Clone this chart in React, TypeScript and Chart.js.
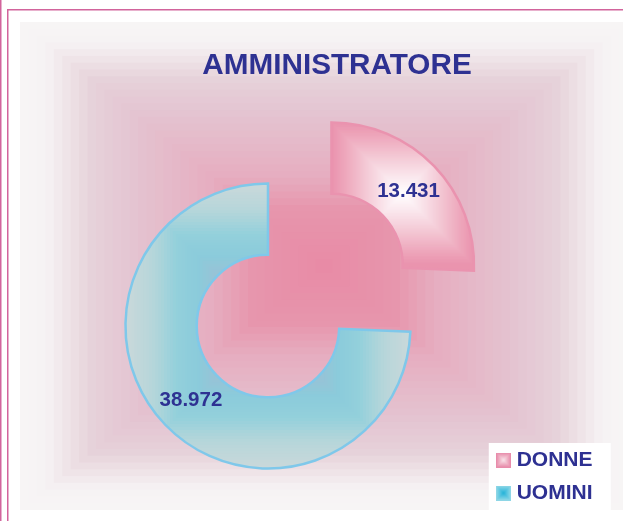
import React, { useEffect, useRef } from 'react';
import { Chart, registerables } from 'chart.js';

Chart.register(...registerables);

// ---------------- data ----------------
const TITLE = 'AMMINISTRATORE';
const categories = ['DONNE', 'UOMINI'];
const values = [13431, 38972];

// ---------------- style ----------------
type Stop = [number, string];
const W = 623;
const H = 521;
const FONT = '"Liberation Sans", Arial, Helvetica, sans-serif';
const TEXT_COLOR = '#2e3192';
const FRAME_COLOR = '#d2649c';
const RADIUS = 142.5;
const explodeOffsets = [352, 0];
const sliceBorders = ['#ea93af', '#7fc8ea'];
// gradient centre (dx, dy) and half size, in units of the radius, relative to the pie centre
const sliceGradGeom = [
  [0.5, -0.5, 0.5],
  [0, 0, 1],
];
const sliceStops: Stop[][] = [
  [[0, '#ea94ae'], [0.15, '#eda3b9'], [0.45, '#f3c6d3'], [0.75, '#fae7ed'], [1, '#ffffff']],
  [[0, '#c9d8da'], [0.18, '#b6d6da'], [0.35, '#93d0db'], [0.5, '#8bcbdb'], [0.62, '#98c3d6'], [1, '#a6c2d8']],
];
const bgStops: Stop[] = [
  [0, '#f7f5f5'], [0.07, '#f6f3f4'], [0.22, '#e6d2da'], [0.36, '#e4c4d1'],
  [0.62, '#e6adc0'], [0.75, '#e796ad'], [1, '#e88aa5'],
];
const legendIconStops: Stop[][] = [
  [[0, '#e88dab'], [0.45, '#f0b6c8'], [1, '#fbeef2']],
  [[0, '#8ed6e6'], [0.5, '#55c4e0'], [1, '#1aaed6']],
];

function formatIt(n: number): string {
  return String(Math.round(n)).replace(/\B(?=(\d{3})+(?!\d))/g, '.');
}

function hexToRgb(h: string): number[] {
  const n = parseInt(h.slice(1), 16);
  return [(n >> 16) & 255, (n >> 8) & 255, n & 255];
}

function colorAt(stops: Stop[], t: number): string {
  if (t <= stops[0][0]) return stops[0][1];
  for (let i = 1; i < stops.length; i++) {
    if (t <= stops[i][0]) {
      const [t0, c0] = stops[i - 1];
      const [t1, c1] = stops[i];
      const f = (t - t0) / (t1 - t0 || 1);
      const a = hexToRgb(c0);
      const b = hexToRgb(c1);
      const m = a.map((v, k) => Math.round(v + (b[k] - v) * f));
      return `rgb(${m[0]},${m[1]},${m[2]})`;
    }
  }
  return stops[stops.length - 1][1];
}

function paintRectGradient(
  ctx: CanvasRenderingContext2D, cx: number, cy: number, hw: number, hh: number,
  stops: Stop[], steps: number,
) {
  for (let k = 0; k < steps; k++) {
    const t = k / steps;
    const s = 1 - t;
    ctx.fillStyle = colorAt(stops, t);
    ctx.fillRect(cx - hw * s, cy - hh * s, 2 * hw * s, 2 * hh * s);
  }
}

function makePattern(ctx: CanvasRenderingContext2D, cx: number, cy: number, hw: number, hh: number, stops: Stop[]) {
  const off = document.createElement('canvas');
  off.width = W;
  off.height = H;
  const o = off.getContext('2d')!;
  o.fillStyle = stops[0][1];
  o.fillRect(0, 0, W, H);
  paintRectGradient(o, cx, cy, hw, hh, stops, 48);
  return ctx.createPattern(off, 'no-repeat');
}

function makeIcon(stops: Stop[]) {
  const c = document.createElement('canvas');
  c.width = 15;
  c.height = 15;
  const o = c.getContext('2d')!;
  paintRectGradient(o, 7.5, 7.5, 7.5, 7.5, stops, 7);
  return c;
}

const backgroundPlugin = {
  id: 'pageBackground',
  beforeDraw(chart: any) {
    const ctx: CanvasRenderingContext2D = chart.ctx;
    ctx.save();
    ctx.fillStyle = '#ffffff';
    ctx.fillRect(0, 0, W, H);
    // frame
    ctx.fillStyle = FRAME_COLOR;
    ctx.fillRect(0, 0, 1.5, H);
    ctx.fillRect(7, 9, 1.5, H - 9);
    ctx.fillRect(7, 9, W - 7, 1.5);
    // plot background: rectangular gradient
    ctx.beginPath();
    ctx.rect(20, 22, W - 20, 488);
    ctx.clip();
    ctx.fillStyle = bgStops[0][1];
    ctx.fillRect(20, 22, W - 20, 488);
    paintRectGradient(ctx, 324, 266, 304, 244, bgStops, 36);
    ctx.restore();
    // white legend panel
    const lg = chart.legend;
    if (lg && lg.legendHitBoxes && lg.legendHitBoxes.length) {
      const hb = lg.legendHitBoxes;
      const top = hb[0].top - 6.5;
      const last = hb[hb.length - 1];
      const bottom = last.top + last.height + 6.5;
      ctx.save();
      ctx.fillStyle = '#ffffff';
      ctx.fillRect(lg.left, top, 122, bottom - top);
      ctx.restore();
    }
  },
};

const valueLabelPlugin = {
  id: 'valueLabels',
  afterDatasetsDraw(chart: any) {
    const meta = chart.getDatasetMeta(0);
    const ctx: CanvasRenderingContext2D = chart.ctx;
    ctx.save();
    ctx.font = `bold 20.5px ${FONT}`;
    ctx.fillStyle = TEXT_COLOR;
    ctx.textAlign = 'center';
    ctx.textBaseline = 'middle';
    meta.data.forEach((arc: any, i: number) => {
      const p = arc.getProps(['x', 'y', 'startAngle', 'endAngle', 'innerRadius', 'outerRadius']);
      const off = (arc.options.offset || 0) / 4;
      const mid = (p.startAngle + p.endAngle) / 2;
      const r = (p.innerRadius + p.outerRadius) / 2 + off;
      ctx.fillText(formatIt(values[i]), p.x + Math.cos(mid) * r, p.y + Math.sin(mid) * r);
    });
    ctx.restore();
  },
};

export default function App() {
  const canvasRef = useRef<HTMLCanvasElement | null>(null);

  useEffect(() => {
    document.body.style.margin = '0';
    const canvas = canvasRef.current!;
    const icons = legendIconStops.map((s) => makeIcon(s));

    const chart = new Chart(canvas, {
      type: 'doughnut',
      data: {
        labels: categories,
        datasets: [
          {
            data: values,
            backgroundColor: (c: any) => {
              const ch = c.chart;
              const area = ch.chartArea;
              const i = c.dataIndex ?? 0;
              if (!area) return sliceBorders[i];
              const cx = (area.left + area.right) / 2;
              const cy = (area.top + area.bottom) / 2;
              const g = sliceGradGeom[i];
              return makePattern(ch.ctx, cx + g[0] * RADIUS, cy + g[1] * RADIUS, g[2] * RADIUS, g[2] * RADIUS, sliceStops[i]);
            },
            borderColor: sliceBorders,
            borderWidth: 2.5,
            borderJoinStyle: 'miter',
            offset: explodeOffsets,
            hoverOffset: 0,
          } as any,
        ],
      },
      options: {
        responsive: false,
        animation: false,
        events: [],
        radius: RADIUS,
        cutout: '50%',
        layout: { padding: { left: 71.5, right: 20.5, top: 0, bottom: 5.5 } },
        plugins: {
          title: {
            display: true,
            text: TITLE,
            color: TEXT_COLOR,
            font: { family: FONT, size: 29.7, weight: 'bold', lineHeight: 1.2 },
            padding: { top: 48.1, bottom: 52.76 },
          },
          subtitle: {
            display: true,
            text: '',
            position: 'right',
            weight: 500,
            padding: 0,
            font: { size: 12, lineHeight: '24.3px' },
          },
          legend: {
            display: true,
            position: 'right',
            align: 'end',
            labels: {
              color: TEXT_COLOR,
              font: { family: FONT, size: 21, weight: 'bold' },
              padding: 12,
              usePointStyle: true,
              pointStyleWidth: 5.4,
              generateLabels: (ch: any) =>
                ch.data.labels.map((text: string, i: number) => ({
                  text,
                  fillStyle: sliceBorders[i],
                  strokeStyle: sliceBorders[i],
                  lineWidth: 0,
                  pointStyle: icons[i],
                  fontColor: TEXT_COLOR,
                  hidden: false,
                  index: i,
                })),
            },
          },
          tooltip: { enabled: false },
        },
      } as any,
      plugins: [backgroundPlugin, valueLabelPlugin],
    });

    return () => chart.destroy();
  }, []);

  return (
    <div style={{ position: 'fixed', left: 0, top: 0, width: W, height: H }}>
      <canvas ref={canvasRef} width={W} height={H} style={{ display: 'block' }} />
    </div>
  );
}
